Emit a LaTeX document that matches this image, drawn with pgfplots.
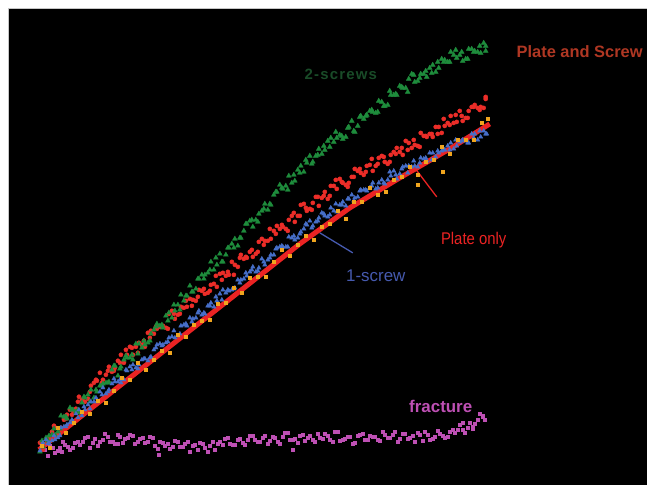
\documentclass[border=0pt]{standalone}
\usepackage{pgfplots}
\pgfplotsset{compat=1.18}
\usepackage{fontspec}
\setmainfont{Liberation Sans}
\newfontfamily\spacedfont{Liberation Sans}[LetterSpace=8.0]
\definecolor{gpts}{RGB}{30,140,60}
\definecolor{glab}{RGB}{25,75,40}
\definecolor{rpts}{RGB}{235,45,40}
\definecolor{rlab}{RGB}{175,55,35}
\definecolor{rline}{RGB}{235,35,35}
\definecolor{bpts}{RGB}{70,110,200}
\definecolor{blab}{RGB}{70,90,175}
\definecolor{opts}{RGB}{240,165,30}
\definecolor{mpts}{RGB}{190,80,180}
\begin{document}
\begin{tikzpicture}
\begin{axis}[
  width=647bp, height=485bp, scale only axis,
  xmin=0, xmax=647, ymin=0, ymax=485, y dir=reverse,
  axis lines=none, ticks=none, clip=false,
]
\path[draw=none] (rel axis cs:0,0) rectangle (rel axis cs:1,1);
% background
\addplot[fill=black, draw=none, forget plot] coordinates {(8,8) (647,8) (647,485) (8,485)} -- cycle;
\draw[gray!45, line width=0.8bp] (axis cs:8,485) -- (axis cs:8,8) -- (axis cs:647,8);

% fracture
\addplot[only marks, mark=square*, mark size=1.4bp, color=mpts] coordinates {
(45,450)(50,446)(55,453)(60,448)(65,445)(70,450)(75,443)(80,445)(85,438)(90,448)
(95,439)(100,442)(105,434)(110,442)(115,444)(120,437)(125,439)(130,435)(135,444)(140,439)
(145,443)(150,437)(155,446)(160,442)(165,446)(170,449)(175,441)(180,447)(185,444)(190,452)
(195,445)(200,443)(205,448)(210,446)(215,450)(220,442)(225,439)(230,444)(235,445)(240,439)
(245,445)(250,436)(255,440)(260,442)(265,436)(270,441)(275,438)(280,444)(285,433)(290,440)
(295,439)(300,436)(305,441)(310,436)(315,442)(320,438)(325,434)(330,440)(335,432)(340,441)
(345,439)(350,437)(355,443)(360,435)(365,440)(370,436)(375,437)(380,441)(385,435)(390,438)
(395,432)(400,439)(405,434)(410,438)(415,442)(420,435)(425,432)(430,440)(435,437)(440,434)
(445,438)(450,432)(455,433)(460,425)(465,433)(470,423)(475,424)(480,414)(485,420)
(159,455)(293,450)(62,452)(118,444)(458,430)(468,428)(478,420)(483,417)(473,427)(463,430)
(48,456)(53,448)(58,451)(63,442)(68,447)(73,448)(78,442)(83,442)(88,437)(93,443)
(98,446)(103,440)(108,437)(113,442)(118,435)(123,443)(128,438)(133,436)(138,442)(143,438)
(148,442)(153,438)(158,449)(163,443)(168,444)(173,447)(178,442)(183,447)(188,442)(193,446)
(198,450)(203,444)(208,452)(213,442)(218,444)(223,445)(228,438)(233,445)(238,440)(243,443)
(248,440)(253,436)(258,442)(263,438)(268,444)(273,437)(278,442)(283,437)(288,433)(293,440)
(298,443)(303,435)(308,438)(313,440)(318,434)(323,439)(328,436)(333,442)(338,432)(343,440)
(348,437)(353,444)(358,436)(363,434)(368,440)(373,437)(378,440)(383,432)(388,438)(393,435)
(398,442)(403,434)(408,439)(413,436)(418,433)(423,441)(428,435)(433,439)(438,431)(443,436)
(448,437)(453,430)(458,430)(463,423)(468,428)(473,429)(478,420)(483,416)
};

% Plate and Screw (red dots)
\addplot[only marks, mark=*, mark size=2.1bp, color=rpts] coordinates {
(40,443)(46,444)(52,432)(58,435)(64,420)(70,410)(76,409)(82,400)(88,399)(94,383)
(100,373)(106,375)(112,372)(118,361)(124,363)(130,347)(136,347)(142,345)(148,333)(154,334)
(160,327)(166,328)(172,311)(178,315)(184,308)(190,299)(196,301)(202,291)(208,293)(214,284)
(220,274)(226,276)(232,262)(238,267)(244,259)(250,252)(256,254)(262,239)(268,241)(274,231)
(280,229)(286,229)(292,216)(298,216)(304,204)(310,209)(316,197)(322,198)(328,199)(334,186)
(340,179)(346,185)(352,177)(358,171)(364,175)(370,165)(376,166)(382,156)(388,164)(394,152)
(400,152)(406,141)(412,148)(418,146)(424,136)(430,134)(436,127)(442,133)(448,123)(454,123)
(460,111)(466,118)(472,107)(478,108)(484,108)
(43,450)(49,438)(55,428)(61,428)(67,415)(73,411)(79,397)(85,402)(91,386)(97,381)
(103,380)(109,367)(115,368)(121,355)(127,355)(133,355)(139,343)(145,347)(151,331)(157,329)
(163,326)(169,314)(175,319)(181,307)(187,307)(193,300)(199,290)(205,294)(211,285)(217,287)
(223,273)(229,275)(235,265)(241,255)(247,258)(253,257)(259,242)(265,241)(271,239)(277,226)
(283,227)(289,220)(295,222)(301,205)(307,211)(313,203)(319,206)(325,192)(331,186)(337,189)
(343,183)(349,183)(355,169)(361,173)(367,166)(373,171)(379,158)(385,162)(391,155)(397,148)
(403,155)(409,143)(415,145)(421,133)(427,137)(433,137)(439,127)(445,126)(451,116)(457,122)
(463,121)(469,111)(475,105)(481,107)(486,97)
(42,448)(48,443)(54,426)(60,434)(66,419)(72,415)(78,402)(84,402)(90,392)(96,380)
(102,383)(108,371)(114,371)(120,363)(126,350)(132,348)(138,353)(144,341)(150,338)(156,327)
(162,326)(168,329)(174,314)(180,314)(186,301)(192,306)(198,297)(204,289)(210,291)(216,276)
(222,280)(228,272)(234,275)(240,258)(246,257)(252,250)(258,252)(264,245)(270,229)(276,234)
(282,225)(288,231)(294,213)(300,216)(306,208)(312,210)(318,197)(324,196)(330,196)(336,180)
(342,182)(348,187)(354,177)(360,169)(366,172)(372,159)(378,164)(384,157)(390,162)(396,154)
(402,148)(408,150)(414,140)(420,147)(426,136)(432,134)(438,134)(444,119)(450,125)(456,115)
(462,116)(468,118)(474,107)(480,110)(486,99)
};

% 2-screws (green triangles)
\addplot[only marks, mark=triangle*, mark size=2.8bp, color=gpts] coordinates {
(40,452)(46,438)(52,435)(58,432)(64,417)(70,408)(76,412)(82,403)(88,395)(94,398)
(100,386)(106,383)(112,370)(118,376)(124,360)(130,358)(136,344)(142,348)(148,343)(154,330)
(160,326)(166,316)(172,318)(178,305)(184,301)(190,286)(196,289)(202,275)(208,273)(214,270)
(220,254)(226,255)(232,244)(238,246)(244,231)(250,221)(256,220)(262,211)(268,210)(274,195)
(280,185)(286,186)(292,183)(298,170)(304,172)(310,156)(316,156)(322,154)(328,141)(334,142)
(340,135)(346,137)(352,121)(358,126)(364,119)(370,111)(376,113)(382,102)(388,105)(394,95)
(400,86)(406,88)(412,74)(418,81)(424,74)(430,68)(436,72)(442,59)(448,62)(454,55)
(460,55)(466,59)(472,49)(478,52)(484,43)
(43,447)(49,436)(55,435)(61,416)(67,419)(73,410)(79,413)(85,398)(91,390)(97,392)
(103,384)(109,382)(115,366)(121,367)(127,358)(133,360)(139,344)(145,345)(151,334)(157,324)
(163,328)(169,313)(175,311)(181,295)(187,296)(193,292)(199,279)(205,275)(211,262)(217,265)
(223,262)(229,248)(235,239)(241,238)(247,224)(253,227)(259,214)(265,204)(271,205)(277,192)
(283,189)(289,176)(295,181)(301,166)(307,163)(313,162)(319,149)(325,150)(331,138)(337,138)
(343,139)(349,127)(355,132)(361,116)(367,115)(373,112)(379,101)(385,106)(391,95)(397,95)
(403,88)(409,79)(415,82)(421,74)(427,77)(433,65)(439,68)(445,60)(451,52)(457,58)
(463,61)(469,49)(475,51)(481,53)(486,46)
(42,441)(48,441)(54,429)(60,429)(66,417)(72,410)(78,410)(84,397)(90,402)(96,390)
(102,386)(108,383)(114,366)(120,369)(126,356)(132,355)(138,354)(144,341)(150,341)(156,327)
(162,325)(168,321)(174,305)(180,310)(186,296)(192,292)(198,279)(204,279)(210,270)(216,258)
(222,262)(228,248)(234,248)(240,238)(246,224)(252,220)(258,222)(264,209)(270,204)(276,192)
(282,188)(288,190)(294,175)(300,173)(306,160)(312,164)(318,155)(324,146)(330,147)(336,132)
(342,136)(348,128)(354,131)(360,117)(366,116)(372,110)(378,112)(384,106)(390,91)(396,94)
(402,87)(408,92)(414,75)(420,78)(426,71)(432,73)(438,62)(444,62)(450,62)(456,50)
(462,52)(468,59)(474,52)(480,46)(486,51)
};

% 1-screw (blue triangles)
\addplot[only marks, mark=triangle*, mark size=2.5bp, color=bpts] coordinates {
(40,451)(46,440)(52,441)(58,438)(64,427)(70,423)(76,414)(82,416)(88,405)(94,402)
(100,392)(106,394)(112,384)(118,382)(124,380)(130,367)(136,368)(142,360)(148,361)(154,350)
(160,344)(166,343)(172,337)(178,336)(184,325)(190,318)(196,318)(202,315)(208,306)(214,307)
(220,294)(226,293)(232,290)(238,280)(244,279)(250,272)(256,272)(262,259)(268,260)(274,255)
(280,247)(286,247)(292,238)(298,238)(304,229)(310,221)(316,222)(322,213)(328,217)(334,211)
(340,205)(346,206)(352,195)(358,197)(364,190)(370,188)(376,189)(382,180)(388,180)(394,171)
(400,174)(406,166)(412,167)(418,167)(424,159)(430,153)(436,157)(442,151)(448,146)(454,149)
(460,142)(466,141)(472,134)(478,140)(484,131)
(43,443)(49,443)(55,440)(61,428)(67,425)(73,422)(79,410)(85,410)(91,402)(97,402)
(103,388)(109,390)(115,382)(121,383)(127,371)(133,365)(139,365)(145,359)(151,357)(157,345)
(163,345)(169,338)(175,338)(181,326)(187,326)(193,319)(199,311)(205,314)(211,303)(217,301)
(223,290)(229,291)(235,288)(241,280)(247,276)(253,267)(259,268)(265,265)(271,255)(277,248)
(283,247)(289,237)(295,240)(301,232)(307,225)(313,226)(319,218)(325,216)(331,208)(337,212)
(343,202)(349,199)(355,198)(361,190)(367,191)(373,183)(379,183)(385,184)(391,176)(397,179)
(403,167)(409,166)(415,166)(421,158)(427,161)(433,153)(439,153)(445,150)(451,143)(457,146)
(463,140)(469,143)(475,134)(481,137)(487,134)
(42,445)(48,444)(54,436)(60,436)(66,427)(72,420)(78,418)(84,407)(90,409)(96,398)
(102,395)(108,392)(114,379)(120,380)(126,370)(132,370)(138,369)(144,359)(150,358)(156,348)
(162,346)(168,342)(174,331)(180,334)(186,324)(192,322)(198,313)(204,313)(210,306)(216,297)
(222,300)(228,290)(234,289)(240,283)(246,273)(252,270)(258,271)(264,262)(270,258)(276,249)
(282,246)(288,247)(294,236)(300,234)(306,224)(312,228)(318,221)(324,214)(330,215)(336,204)
(342,205)(348,199)(354,201)(360,191)(366,190)(372,186)(378,188)(384,183)(390,172)(396,175)
(402,169)(408,173)(414,161)(420,163)(426,158)(432,160)(438,151)(444,150)(450,150)(456,140)
(462,141)(468,143)(474,138)(480,131)(486,134)
};

% Plate only scatter (orange)
\addplot[only marks, mark=square*, mark size=1.5bp, color=opts] coordinates {
(42,446)(50,448)(58,428)(66,433)(74,423)(82,412)(90,414)(98,401)(106,403)(114,391)
(122,378)(130,380)(138,363)(146,370)(154,360)(162,351)(170,353)(178,335)(186,337)(194,325)
(202,321)(210,320)(218,304)(226,303)(234,288)(242,293)(250,278)(258,277)(266,277)(274,262)
(282,250)(290,256)(298,245)(306,236)(314,240)(322,227)(330,224)(338,211)(346,219)(354,202)
(362,202)(370,188)(378,195)(386,192)(394,180)(402,177)(410,167)(418,175)(426,162)(434,160)
(442,147)(450,154)(458,140)(466,140)(474,140)(482,123)
(443,172)(418,185)(488,119)
};

% Plate only line
\addplot[rline, line width=5bp] coordinates {
(39,450)(97,404)(163,352)(243,289)(300,244)(350,208)(400,178)(450,149)(490,124)
};

% pointers
\draw[blab, line width=1.3bp] (axis cs:320,233) -- (axis cs:353,253);
\draw[rline, line width=1.3bp] (axis cs:415,168) -- (axis cs:437,197);

% labels
\node[text=glab, font=\spacedfont\bfseries\fontsize{15}{17}\selectfont] at (axis cs:341,74) {2-screws};
\node[text=rlab, font=\bfseries\fontsize{16.5}{19}\selectfont] at (axis cs:580,52) {Plate and Screw};
\node[text=rline, font=\fontsize{17}{19}\selectfont] at (axis cs:474,240) {\scalebox{0.88}[1]{Plate only}};
\node[text=blab, font=\fontsize{17}{19}\selectfont] at (axis cs:376,276) {1-screw};
\node[text=mpts, font=\bfseries\fontsize{17}{19}\selectfont] at (axis cs:441,407) {fracture};
\end{axis}
\end{tikzpicture}
\end{document}
